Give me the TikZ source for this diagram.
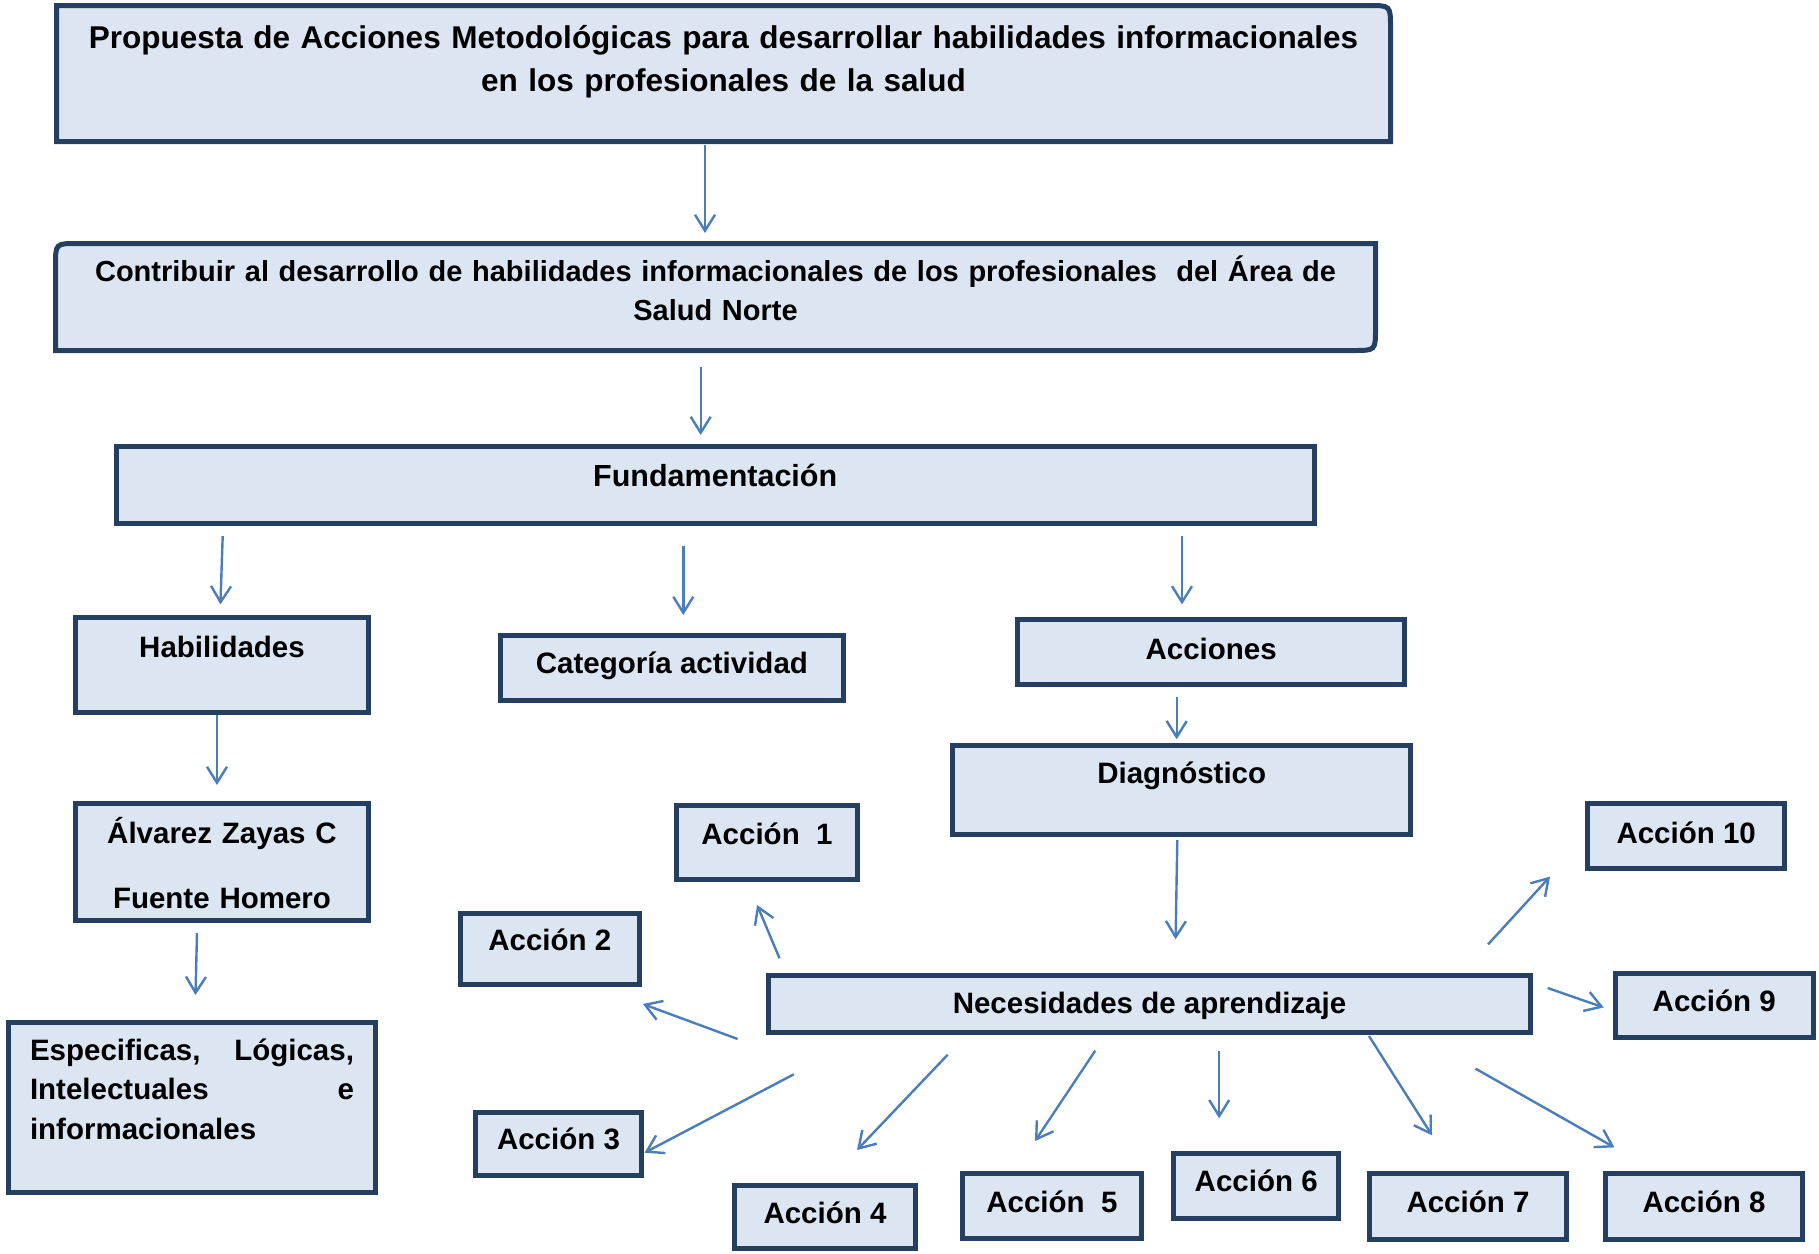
\documentclass[tikz,border=0pt]{standalone}
\usepackage{fontspec}
\setmainfont{Liberation Sans}
\usetikzlibrary{arrows.meta,backgrounds}
\setlength{\parindent}{0pt}

\definecolor{boxfill}{HTML}{DCE6F2}
\definecolor{boxline}{HTML}{243F60}
\definecolor{linkblue}{HTML}{4A7EBB}
\definecolor{titlelight}{HTML}{DDE5F3}
\definecolor{titledark}{HTML}{BFCFEC}

\begin{document}
\begin{tikzpicture}[x=1pt,y=-1pt,>={Straight Barb[length=16pt,width=20pt]},
        box/.style={rectangle,draw=boxline,line width=5pt,fill=boxfill,
          inner sep=0pt,outer sep=0pt,text height=20pt,
          font=\bfseries\fontsize{29.5}{38.5}\selectfont},
        link/.style={->,linkblue,line width=2.4pt}]
        \useasboundingbox (0,0) rectangle (1819,1253);

        % head of the chart
        \node[box,draw=none,fill=none,minimum width=1334pt,minimum height=136pt,
          text width=1320pt,align=center,text depth=71pt,
          font=\bfseries\fontsize{31.5}{43}\selectfont] (title) at (723.5,73.5)
          {Propuesta de Acciones Metodológicas para desarrollar habilidades informacionales\\
           en los profesionales de la salud};
        \node[box,draw=none,fill=none,minimum width=1320pt,minimum height=107pt,
          text width=1300pt,align=center,text depth=50.6pt,
          font=\bfseries\fontsize{29}{38.5}\selectfont] (contrib) at (715.5,297)
          {Contribuir al desarrollo de habilidades informacionales de los profesionales\ \ del Área de\\
           Salud Norte};
        \begin{scope}[on background layer]
          \draw[draw=boxline,line width=5pt,left color=titlelight,middle color=titledark,
            right color=titlelight]
            (title.south west) -- (title.north west) -- ([xshift=-22pt]title.north east)
            .. controls (title.north east) .. ([yshift=-22pt]title.north east)
            -- (title.south east) -- cycle;
          \draw[draw=boxline,line width=5pt,fill=boxfill]
            (contrib.south west) -- ([yshift=-22pt]contrib.north west)
            .. controls (contrib.north west) .. ([xshift=22pt]contrib.north west)
            -- (contrib.north east) -- ([yshift=22pt]contrib.south east)
            .. controls (contrib.south east) .. ([xshift=-22pt]contrib.south east)
            -- cycle;
        \end{scope}

        \node[box,minimum width=1198pt,minimum height=76.7pt,text depth=16.9pt,
          font=\bfseries\fontsize{30.5}{36}\selectfont] (fund) at (715.2,485.2) {Fundamentación};
        \node[box,minimum width=293pt,minimum height=94.7pt,text depth=33.9pt] (hab) at (222,664.9) {Habilidades};
        \node[box,minimum width=343.3pt,minimum height=65pt,text depth=9pt] (cat) at (671.9,668) {Categoría actividad};
        \node[box,minimum width=387.3pt,minimum height=65.6pt,text depth=5.4pt] (acc) at (1211.2,652) {Acciones};
        \node[box,minimum width=458.3pt,minimum height=89.6pt,text depth=33.4pt] (diag) at (1181.7,790) {Diagnóstico};
        \node[box,minimum width=293pt,minimum height=117pt,text width=290pt,align=center,text depth=57pt,
          font=\bfseries\fontsize{29.5}{64.5}\selectfont] (alv) at (222,862) {Álvarez Zayas C\\Fuente Homero};
        \node[box,minimum width=367pt,minimum height=170pt,text width=324pt,align=left,text depth=115pt,
          font=\bfseries\fontsize{29.5}{39.5}\selectfont] (esp) at (192,1107.5)
          {Especificas,\hfill Lógicas,\\Intelectuales\hfill e\\informacionales};
        \node[box,minimum width=762.6pt,minimum height=57.3pt,text depth=1.1pt] (nec) at (1149.5,1003.9) {Necesidades de aprendizaje};

        % the ten actions
        \node[box,minimum width=180.5pt,minimum height=74pt,text depth=17.6pt] (a1) at (767,842.8) {Acción~~1};
        \node[box,minimum width=178.5pt,minimum height=71.3pt,text depth=17.7pt] (a2) at (549.8,948.9) {Acción 2};
        \node[box,minimum width=166pt,minimum height=62.5pt,text depth=8.3pt] (a3) at (558.5,1143.8) {Acción 3};
        \node[box,minimum width=181pt,minimum height=62.7pt,text depth=7.7pt] (a4) at (825,1217.2) {Acción 4};
        \node[box,minimum width=179.3pt,minimum height=65pt,text depth=7.4pt] (a5) at (1051.9,1206) {Acción~~5};
        \node[box,minimum width=165.5pt,minimum height=65pt,text depth=8pt] (a6) at (1256.2,1185.7) {Acción 6};
        \node[box,minimum width=197.6pt,minimum height=66pt,text depth=7pt] (a7) at (1468,1206.2) {Acción 7};
        \node[box,minimum width=197.6pt,minimum height=66pt,text depth=7pt] (a8) at (1704,1206.2) {Acción 8};
        \node[box,minimum width=198pt,minimum height=64.3pt,text depth=7.3pt] (a9) at (1714.2,1005.3) {Acción 9};
        \node[box,minimum width=197.3pt,minimum height=65pt,text depth=4.8pt] (a10) at (1686.2,835.7) {Acción 10};

        % connector ends
        \coordinate (title-out) at (705,145);      \coordinate (contrib-in) at (705,233);
        \coordinate (contrib-out) at (700.7,367);  \coordinate (fund-in) at (700.7,435);
        \coordinate (fund-hab) at (222.7,536);     \coordinate (hab-in) at (220.4,604.4);
        \coordinate (fund-cat) at (683.3,546);     \coordinate (cat-in) at (683.3,615);
        \coordinate (fund-acc) at (1182,536);      \coordinate (acc-in) at (1182,604.4);
        \coordinate (hab-out) at (217,715);        \coordinate (alv-in) at (217,785);
        \coordinate (alv-out) at (197,933);        \coordinate (esp-in) at (195.5,995);
        \coordinate (acc-out) at (1176.7,696.7);   \coordinate (diag-in) at (1176.7,739.3);
        \coordinate (diag-out) at (1177.3,840);    \coordinate (nec-in) at (1175.6,939.3);
        \coordinate (nec-a1) at (779.5,958.3);     \coordinate (a1-in) at (757.1,905);
        \coordinate (nec-a2) at (737.6,1039);      \coordinate (a2-in) at (642.9,1004);
        \coordinate (nec-a3) at (793.8,1074.3);    \coordinate (a3-in) at (644.6,1152.7);
        \coordinate (nec-a4) at (947.7,1054.7);    \coordinate (a4-in) at (857,1150);
        \coordinate (nec-a5) at (1095.2,1050.7);   \coordinate (a5-in) at (1035,1141);
        \coordinate (nec-a6) at (1219.2,1050.7);   \coordinate (a6-in) at (1219.2,1118.3);
        \coordinate (nec-a7) at (1369,1036);       \coordinate (a7-in) at (1432,1135.3);
        \coordinate (nec-a8) at (1475.5,1068.6);   \coordinate (a8-in) at (1614.4,1147.4);
        \coordinate (nec-a9) at (1547.7,988);      \coordinate (a9-in) at (1603.7,1007.5);
        \coordinate (nec-a10) at (1488,944.4);     \coordinate (a10-in) at (1550,876.6);

        \path[link]
        (title-out) edge (contrib-in)
        (contrib-out) edge (fund-in)
        (fund-hab) edge (hab-in)
        (fund-cat) edge (cat-in)
        (fund-acc) edge (acc-in)
        (hab-out) edge (alv-in)
        (alv-out) edge (esp-in)
        (acc-out) edge (diag-in)
        (diag-out) edge (nec-in)
        ;
        \foreach \i in {1,...,10}
          \path[link] (nec-a\i) edge (a\i-in);
\end{tikzpicture}
\end{document}
